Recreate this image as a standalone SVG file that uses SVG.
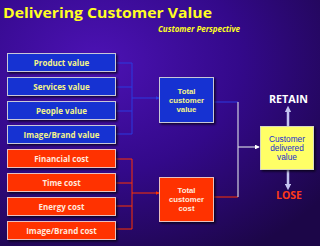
<svg xmlns="http://www.w3.org/2000/svg" width="320" height="246" viewBox="0 0 320 246">
<defs>
<radialGradient id="bg" cx="0.3" cy="0.25" r="0.9">
<stop offset="0" stop-color="#4c12b4"/>
<stop offset="0.5" stop-color="#33098a"/>
<stop offset="1" stop-color="#1c0648"/>
</radialGradient>
<filter id="sh" x="-10%" y="-10%" width="130%" height="140%">
<feDropShadow dx="1.5" dy="1.5" stdDeviation="0.8" flood-color="#000" flood-opacity="0.7"/>
</filter>
<marker id="aw" viewBox="0 0 6 6" refX="5" refY="3" markerWidth="4" markerHeight="4" orient="auto"><path d="M0,0L6,3L0,6z" fill="#ffffff"/></marker>
<marker id="ab" viewBox="0 0 6 6" refX="5" refY="3" markerWidth="4" markerHeight="4" orient="auto"><path d="M0,0L6,3L0,6z" fill="#2a3ae0"/></marker>
<marker id="ar" viewBox="0 0 6 6" refX="5" refY="3" markerWidth="4" markerHeight="4" orient="auto"><path d="M0,0L6,3L0,6z" fill="#ff3300"/></marker>
<marker id="al" viewBox="0 0 6 6" refX="3" refY="3" markerWidth="2.6" markerHeight="2.6" orient="auto"><path d="M0,0L6,3L0,6z" fill="#c4c4f0"/></marker>
</defs>
<style>
.b{fill:#1432d2;stroke:#c8c8d8;stroke-width:1}
.r{fill:#ff3300;stroke:#e8c0c0;stroke-width:1}
.y{fill:#ffff66;stroke:#d8d8c0;stroke-width:1}
text{font-family:"Open Sans","Liberation Sans",sans-serif;font-weight:bold;text-anchor:middle}
.tb{fill:#f4f48a;font-size:8px}
.tr{fill:#ffe8dc;font-size:8px}
.m{font-family:"Liberation Sans",sans-serif;font-size:7.8px}
.ty{fill:#2030d0;font-family:"Liberation Sans",sans-serif;font-size:8.3px;font-weight:normal}
.cb{stroke:#2a3ae0;fill:none;stroke-width:1}
.cr{stroke:#ff3300;fill:none;stroke-width:1}
.cw{stroke:#d0d0e0;fill:none;stroke-width:1.2}
</style>
<rect width="320" height="246" fill="url(#bg)"/>
<text x="3" y="17.5" style="text-anchor:start;font-size:14px;fill:#ffff22" textLength="209" lengthAdjust="spacingAndGlyphs">Delivering Customer Value</text>
<text x="158" y="31.5" style="text-anchor:start;font-size:8.5px;font-style:italic;fill:#ffff22" textLength="82" lengthAdjust="spacingAndGlyphs">Customer Perspective</text>
<g id="connectors">
<path class="cb" d="M116,63H132M116,87H132M116,111H132M116,134H132M132,63V134"/>
<path class="cb" d="M132,98H159" marker-end="url(#ab)"/>
<path class="cr" d="M116,159H132M116,183H132M116,206H132M116,229H132M132,159V229"/>
<path class="cr" d="M132,193H159" marker-end="url(#ar)"/>
<path class="cb" d="M213,102H238"/>
<path class="cr" d="M213,197H238"/>
<path class="cw" d="M238,102V197"/>
<path class="cw" d="M238,147H259" marker-end="url(#aw)"/>
<path d="M288,126V109" stroke="#c4c4f0" stroke-width="2.5" marker-end="url(#al)"/>
<path d="M288,170V187" stroke="#c4c4f0" stroke-width="2.5" marker-end="url(#al)"/>
</g>
<g id="product-value"><rect class="b" x="7.5" y="53.5" width="108" height="18" filter="url(#sh)"/><text class="tb" x="61.5" y="65.5">Product value</text></g>
<g id="services-value"><rect class="b" x="7.5" y="77.5" width="108" height="18" filter="url(#sh)"/><text class="tb" x="61.5" y="89.5">Services value</text></g>
<g id="people-value"><rect class="b" x="7.5" y="101.5" width="108" height="18" filter="url(#sh)"/><text class="tb" x="61.5" y="113.5">People value</text></g>
<g id="image-brand-value"><rect class="b" x="7.5" y="125.5" width="108" height="18" filter="url(#sh)"/><text class="tb" x="61.5" y="137.5">Image/Brand value</text></g>
<g id="financial-cost"><rect class="r" x="7.5" y="149.5" width="108" height="18" filter="url(#sh)"/><text class="tr" x="61.5" y="161.5">Financial cost</text></g>
<g id="time-cost"><rect class="r" x="7.5" y="173.5" width="108" height="18" filter="url(#sh)"/><text class="tr" x="61.5" y="185.5">Time cost</text></g>
<g id="energy-cost"><rect class="r" x="7.5" y="197.5" width="108" height="18" filter="url(#sh)"/><text class="tr" x="61.5" y="209.5">Energy cost</text></g>
<g id="image-brand-cost"><rect class="r" x="7.5" y="221.5" width="108" height="18" filter="url(#sh)"/><text class="tr" x="61.5" y="233.5">Image/Brand cost</text></g>
<g id="total-customer-value"><rect class="b" x="159.5" y="77.5" width="54" height="45" filter="url(#sh)"/><text class="tb m" x="186.5" y="93.5">Total</text><text class="tb m" x="186.5" y="102.5">customer</text><text class="tb m" x="186.5" y="111.5">value</text></g>
<g id="total-customer-cost"><rect class="r" x="159.5" y="177.5" width="54" height="44" filter="url(#sh)"/><text class="tr m" x="186.5" y="192.5">Total</text><text class="tr m" x="186.5" y="201.5">customer</text><text class="tr m" x="186.5" y="210.5">cost</text></g>
<g id="customer-delivered-value"><rect class="y" x="260.5" y="126.5" width="53" height="43" filter="url(#sh)"/><text class="ty" x="287" y="141.5">Customer</text><text class="ty" x="287" y="150.5">delivered</text><text class="ty" x="287" y="159.5">value</text></g>
<g id="retain"><text x="288.5" y="103" style="font-size:11px;fill:#ffffff" textLength="39" lengthAdjust="spacingAndGlyphs">RETAIN</text></g>
<g id="lose"><text x="289" y="199" style="font-size:11px;fill:#ff3a1a" textLength="26" lengthAdjust="spacingAndGlyphs">LOSE</text></g>
</svg>
